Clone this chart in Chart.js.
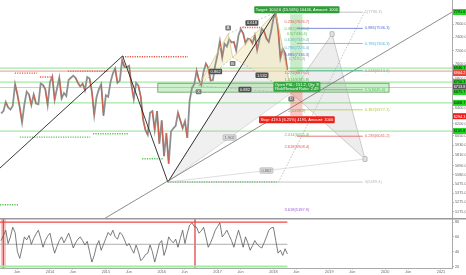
<!DOCTYPE html>
<html>
<head>
<meta charset="utf-8">
<script src="https://cdn.jsdelivr.net/npm/chart.js@4.4.1/dist/chart.umd.min.js"></script>
<style>
  html, body { margin: 0; padding: 0; background: #fff; overflow: hidden; }
  canvas { display: block; }
</style>
</head>
<body>
<canvas id="price" width="466" height="218"></canvas>
<canvas id="osc" width="466" height="57"></canvas>
<script>
// semi-monthly closes, Feb 2013 .. Mar 2018
const startYear = 2013.125;
const stepYear = 1 / 24;
const xMin = 2013.105, xMax = 2021.197;

const closes = [
  6330, 6360, 6480, 6410, 6380, 6430, 6720, 6580, 6410, 6215, 6450, 6620, 6580, 6440, 6580, 6460, 6450, 6730, 6710, 6650, 6440, 6750,
  6830, 6510, 6660, 6810, 6530, 6600, 6560, 6780, 6810, 6840, 6810, 6740, 6690, 6730, 6640, 6820, 6800, 6620, 6310, 6546, 6650, 6720, 6300, 6570,
  6550, 6750, 6870, 6940, 6740, 6770, 7060, 6960, 6960, 6980, 6710, 6520, 6740, 6700, 6550, 6250, 6120, 6060, 6340, 6360, 6120, 6360, 5950, 6240,
  5800, 6080, 5710, 6100, 6140, 6170, 6340, 6240, 6140, 6230, 6020, 6500, 6670, 6720, 6910, 6780, 6710, 6900, 7010, 6950, 6770, 6780, 6990, 7140,
  7340, 7100, 7300, 7260, 7370, 7320, 7330, 7200, 7430, 7520, 7460, 7310, 7380, 7370, 7310, 7430, 7210, 7370, 7530, 7490, 7380, 7330, 7490, 7690,
  7770, 7530, 7090, 7230, 7160, 6920
];

const osc = [
  55, 62, 69, 51, 60, 73, 66, 40, 31, 45,
  60, 56, 62, 50, 58, 64, 69, 58, 46, 55,
  61, 65, 50, 38, 47, 55, 60, 52, 58, 65,
  56, 45, 52, 57, 60, 55, 49, 54, 40, 26,
  35, 48, 55, 42, 50, 58, 66, 62, 69, 60,
  57, 66, 63, 56, 48, 51, 44, 38, 49, 40,
  28, 31, 36, 38, 49, 40, 26, 38, 51, 55,
  35, 45, 60, 55, 52, 57, 46, 58, 69, 51,
  65, 76, 79, 74, 73, 65, 68, 73, 60, 46,
  52, 60, 69, 74, 79, 60, 64, 69, 62, 55,
  46, 58, 69, 58, 46, 60, 52, 42, 48, 55,
  50, 47, 45, 52, 60, 69, 72, 73, 55, 38,
  42, 35, 44, 37
];

const xTickPos = [2013.41, 2014, 2014.41, 2015, 2015.41, 2016, 2016.41, 2017, 2017.41, 2018, 2018.41, 2019, 2019.41, 2020, 2020.41, 2021];
const xTickText = ['Jun', '2014', 'Jun', '2015', 'Jun', '2016', 'Jun', '2017', 'Jun', '2018', 'Jun', '2019', 'Jun', '2020', 'Jun', '2021'];
const priceTicks = [7600, 7400, 7200, 7000, 6800, 6600, 6400, 6200, 6050, 5930, 5810, 5690, 5580, 5475, 5375, 5275, 5175];
const oscTicks = [80, 60, 40, 20];
const oscLevels = [80, 50, 20];

// support / resistance levels
const greenLevels = [6946.7, 6750.3, 6675.7, 6468.7, 6105.8];
const pinkLevels = [6904.2];
const badgeValues = [7791.6, 6946.7, 6904.2, 6750.3, 6713.8, 6675.7, 6468.7, 6294.3, 6105.8];
const badgeKinds = ['up', 'up', 'down', 'up', 'last', 'up', 'up', 'stop', 'up'];

// pivot highs / lows: [from, to, price]
const highPivots = [[2013.37, 2013.77, 6875], [2013.82, 2014.04, 6820], [2014.32, 2015.04, 6904], [2015.30, 2016.47, 7110], [2017.40, 2017.76, 7550]];
const lowPivots = [[2013.105, 2013.43, 5250], [2013.46, 2014.72, 6030], [2014.77, 2015.40, 6072], [2015.65, 2016.02, 5768], [2016.11, 2018.06, 5499.4]];

// trend lines: [t1, p1, t2, p2]
const trendLines = [
  [2013.105, 5660, 2015.30, 7122],
  [2015.30, 7122, 2016.11, 5499.4],
  [2016.11, 5499.4, 2018.04, 7792]
];
const channelLine = [2014.895, 5075, 2021.197, 7791.6];

// harmonic pattern
const patNames = ['X', 'A', 'B', 'C', 'D'];
const patTime = [2016.66, 2017.19, 2017.27, 2018.04, 2018.32];
const patPrice = [6700, 7450, 7100, 7792, 6600];
const patRatios = ['0.862', '0.618', '1.532', '0.882'];
const projTime = [2018.32, 2019.05, 2019.64];
const projPrice = [6600, 7448, 5765];

// fib retracement 5499.4 -> 7790.3
const fibLevels = ['1', '0.886', '0.786', '0.618', '0.5', '0.382', '0.236', '0'];
const fibPrices = [7790.3, 7536.3, 7306.3, 6913.6, 6645.0, 6377.1, 6041.2, 5499.4];
const fibSpan = [2018.42, 2019.60];

// fib extension of the last leg
const legLevels = ['0.236', '0.382', '0.5', '0.618', '0.786', '0.886', '1', '1.272', '1.414', '1.618', '2', '2.414', '2.618', '3.618'];
const legPrices = [7626.7, 7518.4, 7436.4, 7349.4, 7226.4, 7136.3, 7070.2, 6878.2, 6775.8, 6628.4, 6354.2, 6055.4, 5908.4, 5187.9];

// long position
const posTime = [2018.30, 2018.52];
const posEntry = 6713.8, posTarget = 7758.4, posStop = 6294.3;
const zoneTime = [2015.93, 2020.07];
const zonePrice = [6612, 6734];

const fibColors = ['#b0b0b0', '#5b6bd8', '#59b4e0', '#4fbf9f', '#5cbf5c', '#b8c64a', '#e25c5c', '#b8b8b8'];
const legColors = ['#e25c5c', '#5cbf5c', '#5cbf5c', '#4fbf9f', '#59b4e0', '#5b6bd8', '#a0a0a0', '#e25c5c', '#5cbf5c', '#4fbf9f', '#5cbf5c', '#5cbf5c', '#e25c5c', '#9b59d0'];
const badgeColors = { up: '#22d322', down: '#e8463c', last: '#5a5a5a', stop: '#f01c1c' };
const tickFont = { family: 'Liberation Sans', size: 3.8 };
const labelFont = '4px "Liberation Sans"';
const redC = '#e0553c', greyC = '#8f8f8f';

function seg(ctx, a, b, color, w, dash) {
  ctx.beginPath();
  ctx.moveTo(a[0], a[1]);
  ctx.lineTo(b[0], b[1]);
  ctx.strokeStyle = color;
  ctx.lineWidth = w;
  ctx.setLineDash(dash || []);
  ctx.stroke();
  ctx.setLineDash([]);
}

function poly(ctx, pts, fill, stroke, w) {
  ctx.beginPath();
  pts.forEach((p, i) => (i ? ctx.lineTo(p[0], p[1]) : ctx.moveTo(p[0], p[1])));
  ctx.closePath();
  if (fill) { ctx.fillStyle = fill; ctx.fill(); }
  if (stroke) { ctx.strokeStyle = stroke; ctx.lineWidth = w; ctx.stroke(); }
}

function tag(ctx, text, x, y, bg, fg, h, border) {
  ctx.font = labelFont;
  const w = ctx.measureText(text).width + 3;
  ctx.beginPath();
  ctx.roundRect(x - w / 2, y - h / 2, w, h, 1);
  ctx.fillStyle = bg;
  ctx.fill();
  if (border) { ctx.strokeStyle = border; ctx.lineWidth = 0.6; ctx.stroke(); }
  ctx.fillStyle = fg;
  ctx.textAlign = 'center';
  ctx.textBaseline = 'middle';
  ctx.fillText(text, x, y + 0.3);
}

const mid = (a, b) => [(a[0] + b[0]) / 2, (a[1] + b[1]) / 2];

const priceDrawings = {
  id: 'priceDrawings',
  beforeDatasetsDraw(ch) {
    const { ctx, chartArea: a } = ch;
    const P = (t, p) => [ch.scales.x.getPixelForValue(t), ch.scales.y.getPixelForValue(p)];
    ctx.save();
    ctx.beginPath(); ctx.rect(a.left, a.top, a.width, a.height); ctx.clip();

    greenLevels.forEach(v => { const y = P(0, v)[1]; seg(ctx, [a.left, y], [a.right, y], '#a3e8a3', 1.2); });
    pinkLevels.forEach(v => { const y = P(0, v)[1]; seg(ctx, [a.left, y], [a.right, y], '#f4a9a9', 1.2); });

    // zone rectangle
    const z1 = P(zoneTime[0], zonePrice[1]), z2 = P(zoneTime[1], zonePrice[0]);
    ctx.fillStyle = 'rgba(110,215,110,0.35)';
    ctx.fillRect(z1[0], z1[1], z2[0] - z1[0], z2[1] - z1[1]);
    ctx.strokeStyle = 'rgba(70,130,70,0.8)'; ctx.lineWidth = 0.8;
    ctx.strokeRect(z1[0], z1[1], z2[0] - z1[0], z2[1] - z1[1]);

    // grey wedge low -> C -> D and projection
    const low = P(2016.11, 5499.4);
    const pts = patTime.map((t, i) => P(t, patPrice[i]));
    poly(ctx, [low, pts[3], pts[4]], 'rgba(185,185,185,0.22)', '#c4c4c4', 0.6);
    const pr = projTime.map((t, i) => P(t, projPrice[i]));
    poly(ctx, pr, 'rgba(185,185,185,0.25)', '#b9b9b9', 0.7);

    // pattern triangles
    poly(ctx, [pts[0], pts[1], pts[2]], 'rgba(242,232,180,0.5)', null);
    poly(ctx, [pts[2], pts[3], pts[4]], 'rgba(242,232,180,0.5)', null);
    ctx.restore();
  },
  afterDatasetsDraw(ch) {
    const { ctx, chartArea: a } = ch;
    const P = (t, p) => [ch.scales.x.getPixelForValue(t), ch.scales.y.getPixelForValue(p)];
    ctx.save();
    ctx.beginPath(); ctx.rect(a.left, a.top, a.width, a.height); ctx.clip();

    highPivots.forEach(([t1, t2, p]) => seg(ctx, P(t1, p), P(t2, p), '#e8584c', 1.4, [1.2, 1.2]));
    lowPivots.forEach(([t1, t2, p]) => seg(ctx, P(t1, p), P(t2, p), '#55c455', 1.4, [1.2, 1.2]));

    trendLines.forEach(([t1, p1, t2, p2]) => seg(ctx, P(t1, p1), P(t2, p2), '#222', 0.9));
    seg(ctx, P(channelLine[0], channelLine[1]), P(channelLine[2], channelLine[3]), '#707070', 0.8);

    const low = P(2016.11, 5499.4);
    const pts = patTime.map((t, i) => P(t, patPrice[i]));
    const pr = projTime.map((t, i) => P(t, projPrice[i]));

    // pattern edges
    for (let i = 0; i < 4; i++) seg(ctx, pts[i], pts[i + 1], '#d6c98a', 0.8);
    seg(ctx, pts[0], pts[2], '#a8a8a8', 0.6, [2, 2]);
    seg(ctx, pts[1], pts[3], '#a8a8a8', 0.6, [2, 2]);
    seg(ctx, pts[2], pts[4], '#a8a8a8', 0.6, [2, 2]);
    seg(ctx, pts[0], pts[4], '#a8a8a8', 0.6, [2, 2]);

    // projection helpers
    seg(ctx, P(2018.09, 5499.4), P(2019.63, 7790.3), '#a8a8a8', 0.7, [1.5, 1.5]);
    seg(ctx, low, pr[2], '#c8c8c8', 0.6);

    // fib retracement
    ctx.font = labelFont; ctx.textAlign = 'left'; ctx.textBaseline = 'middle';
    fibPrices.forEach((p, i) => {
      const t0 = fibLevels[i] === '0' ? 2016.11 : fibSpan[0];
      const a1 = P(t0, p), b1 = P(fibSpan[1], p);
      seg(ctx, a1, b1, fibColors[i], 0.8);
      ctx.fillStyle = fibColors[i];
      ctx.fillText(fibLevels[i] + '(' + p.toFixed(1) + ')', b1[0] + 2, b1[1]);
    });

    // position tool
    const e1 = P(posTime[0], posTarget), e2 = P(posTime[1], posEntry), e3 = P(posTime[1], posStop);
    ctx.fillStyle = 'rgba(80,190,80,0.3)';
    ctx.fillRect(e1[0], e1[1], e2[0] - e1[0], e2[1] - e1[1]);
    ctx.fillStyle = 'rgba(240,70,60,0.3)';
    ctx.fillRect(e1[0], e2[1], e3[0] - e1[0], e3[1] - e2[1]);

    // leg extension labels
    ctx.textAlign = 'center';
    legPrices.forEach((p, i) => {
      const q = P(2018.42, p);
      ctx.fillStyle = legColors[i];
      ctx.fillText(legLevels[i] + '(' + p.toFixed(1) + ')', q[0], q[1] - 0.5);
    });

    const cx = P(2018.42, 0)[0];
    tag(ctx, 'Target: 1044.6 (15.56%) 10446, Amount: 1000', cx, e1[1] - 4.5, '#2f9e3a', '#fff', 7);
    ctx.font = labelFont;
    const openW = 47, oy = e2[1] + 2;
    ctx.beginPath(); ctx.roundRect(cx - openW / 2, oy - 5, openW, 10, 1);
    ctx.fillStyle = '#35a843'; ctx.fill();
    ctx.fillStyle = '#fff'; ctx.textAlign = 'center';
    ctx.fillText('Open P&L: 151.2, Qty: 8', cx, oy - 2.2);
    ctx.fillText('Risk/Reward Ratio: 2.49', cx, oy + 2.6);
    tag(ctx, 'Stop: 419.5 (6.25%) 4195, Amount: 1000', cx, e3[1] + 3.5, '#ec2219', '#fff', 7);

    // ratio and point labels
    const ratioAt = [mid(pts[0], pts[2]), mid(pts[1], pts[3]), mid(pts[2], pts[4]), mid(pts[0], pts[4])];
    ratioAt.forEach((m, i) => tag(ctx, patRatios[i], m[0], m[1], '#505050', '#fff', 5.5));
    const lm = mid(low, pts[4]);
    tag(ctx, '1.902', lm[0], lm[1], '#dcdcdc', '#666', 5.5, '#aaa');
    const lf = mid(low, pr[2]);
    tag(ctx, '0.862', lf[0], lf[1], '#dcdcdc', '#666', 5.5, '#aaa');
    patNames.forEach((n, i) => {
      if (n === 'C') {
        ctx.beginPath(); ctx.arc(pts[i][0], pts[i][1] - 1.5, 1.8, 0, Math.PI * 2);
        ctx.strokeStyle = '#888'; ctx.lineWidth = 0.7; ctx.stroke();
        return;
      }
      const dy = n === 'A' ? -6 : 6;
      tag(ctx, n, pts[i][0], pts[i][1] + dy, '#7a7a7a', '#fff', 5);
    });
    tag(ctx, ' ', pr[1][0], pr[1][1], '#e2e2e2', '#666', 5, '#999');
    tag(ctx, ' ', pr[2][0], pr[2][1], '#e2e2e2', '#666', 5, '#999');
    ctx.restore();
  },
  afterDraw(ch) {
    const { ctx, chartArea: a } = ch;
    const ys = ch.scales.y;
    ctx.save();
    ctx.font = '3.8px "Liberation Sans"';
    ctx.textAlign = 'center'; ctx.textBaseline = 'middle';
    let prev = -100;
    badgeValues.forEach((v, i) => {
      let y = Math.max(ys.getPixelForValue(v), prev + 5);
      prev = y;
      ctx.fillStyle = badgeColors[badgeKinds[i]];
      ctx.fillRect(a.right + 1, y - 3, ch.width - a.right - 1, 6);
      ctx.fillStyle = badgeKinds[i] === 'up' ? '#111' : '#fff';
      ctx.fillText(v.toFixed(1), (a.right + ch.width) / 2 + 0.5, y + 0.3);
    });
    ctx.restore();
  }
};

const pricePoints = closes.map((v, i) => ({ x: startYear + i * stepYear, y: v }));

new Chart(document.getElementById('price'), {
  type: 'line',
  data: {
    datasets: [{
      // thin red strokes on falling stretches, drawn above the grey bars
      data: pricePoints,
      borderColor: 'rgba(0,0,0,0)',
      borderWidth: 0.9,
      pointRadius: 0,
      tension: 0,
      segment: { borderColor: c => (c.p1.parsed.y < c.p0.parsed.y - 40 ? redC : 'rgba(0,0,0,0)') }
    }, {
      data: pricePoints,
      borderColor: greyC,
      borderWidth: 1.8,
      pointRadius: 0,
      tension: 0
    }]
  },
  options: {
    responsive: false,
    animation: false,
    devicePixelRatio: 1,
    events: [],
    plugins: { legend: { display: false }, tooltip: { enabled: false } },
    scales: {
      x: { type: 'linear', min: xMin, max: xMax, display: false },
      y: {
        type: 'logarithmic', position: 'right', min: 5109, max: 7987,
        afterBuildTicks: s => { s.ticks = priceTicks.map(v => ({ value: v })); },
        afterFit: s => { s.width = 14; s.paddingTop = 0; s.paddingBottom = 0; },
        ticks: { callback: v => Number(v).toFixed(1), font: tickFont, color: '#666', padding: 1, autoSkip: false },
        grid: { drawOnChartArea: false, tickLength: 2, color: '#bbb' },
        border: { color: '#aaa' }
      }
    }
  },
  plugins: [priceDrawings]
});

const oscDrawings = {
  id: 'oscDrawings',
  beforeDatasetsDraw(ch) {
    const { ctx, chartArea: a } = ch;
    const X = t => ch.scales.x.getPixelForValue(t);
    ctx.save();
    ctx.fillStyle = 'rgba(240,80,80,0.35)';
    ctx.fillRect(X(2013.12), a.top, X(2013.21) - X(2013.12), a.height);
    seg(ctx, [X(2013.165), a.top], [X(2013.165), a.bottom], '#e84040', 1.2);
    seg(ctx, [X(2016.596), a.top], [X(2016.596), a.bottom], '#e84040', 1.3);
    ctx.restore();
  },
  afterDraw(ch) {
    seg(ch.ctx, [0, 0.75], [ch.width, 0.75], '#9a9a9a', 1.5);
  }
};

const lastT = startYear + (osc.length - 1) * stepYear;
const levelColors = ['#f04545', '#9a9a9a', '#9ef09e'];
const levelWidths = [1.3, 0.8, 2.2];

new Chart(document.getElementById('osc'), {
  type: 'line',
  data: {
    datasets: [{
      data: osc.map((v, i) => ({ x: startYear + i * stepYear, y: v })),
      borderColor: '#5a5a5a',
      borderWidth: 0.8,
      pointRadius: 0,
      tension: 0
    }].concat(oscLevels.map((v, i) => ({
      data: [{ x: xMin, y: v }, { x: lastT, y: v }],
      borderColor: levelColors[i],
      borderWidth: levelWidths[i],
      pointRadius: 0
    })))
  },
  options: {
    responsive: false,
    animation: false,
    devicePixelRatio: 1,
    events: [],
    plugins: { legend: { display: false }, tooltip: { enabled: false } },
    scales: {
      x: {
        type: 'linear', min: xMin, max: xMax, position: 'bottom',
        afterBuildTicks: s => { s.ticks = xTickPos.map(v => ({ value: v })); },
        afterFit: s => { s.height = 7; s.paddingLeft = 0; s.paddingRight = 0; },
        ticks: { callback: (v, i) => xTickText[i], font: tickFont, color: '#666', padding: 0, autoSkip: false, maxRotation: 0 },
        grid: { drawOnChartArea: false, tickLength: 1.5, color: '#bbb' },
        border: { color: '#aaa' }
      },
      y: {
        type: 'linear', position: 'right', min: 18, max: 85.5,
        afterBuildTicks: s => { s.ticks = oscTicks.map(v => ({ value: v })); },
        afterFit: s => { s.width = 14; s.paddingTop = 0; s.paddingBottom = 0; },
        ticks: { callback: v => v, font: tickFont, color: '#666', padding: 1, autoSkip: false },
        grid: { drawOnChartArea: false, tickLength: 2, color: '#bbb' },
        border: { color: '#aaa' }
      }
    }
  },
  plugins: [oscDrawings]
});
</script>
</body>
</html>
